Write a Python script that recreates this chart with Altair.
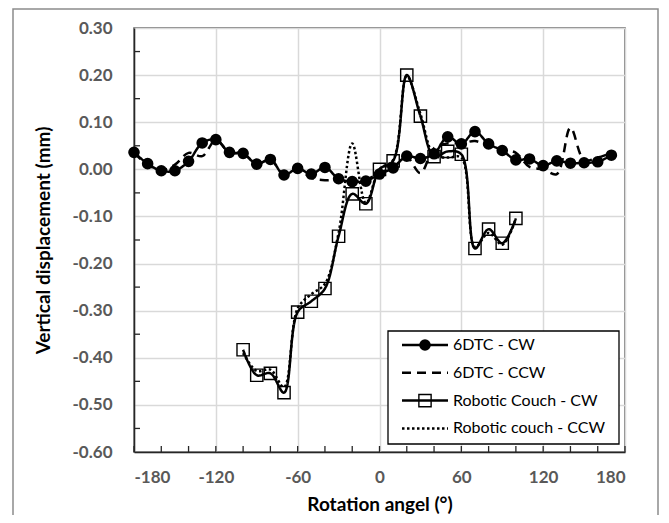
import altair as alt
import pandas as pd

# ---------------- data ----------------
angles_6dtc = [-180, -170, -160, -150, -140, -130, -120, -110, -100, -90, -80, -70,
               -60, -50, -40, -30, -20, -10, 0, 10, 20, 30, 40, 50,
               60, 70, 80, 90, 100, 110, 120, 130, 140, 150, 160, 170]
dtc_cw = [0.036, 0.012, -0.003, -0.003, 0.017, 0.056, 0.063, 0.036, 0.034, 0.011, 0.021, -0.012,
          0.002, -0.010, 0.004, -0.020, -0.026, -0.025, -0.010, 0.003, 0.028, 0.023, 0.033, 0.069,
          0.054, 0.080, 0.054, 0.040, 0.020, 0.022, 0.008, 0.018, 0.013, 0.014, 0.016, 0.030]
dtc_ccw = [0.035, 0.010, -0.002, 0.010, 0.035, 0.028, 0.062, 0.036, 0.033, 0.012, 0.020, -0.010,
           0.000, -0.018, -0.023, -0.022, -0.025, -0.022, -0.008, 0.005, 0.025, -0.008, 0.045, 0.055,
           0.055, 0.060, 0.050, 0.042, 0.035, 0.005, 0.000, -0.010, 0.088, 0.020, 0.025, 0.035]

angles_couch = [-100, -90, -80, -70, -60, -50, -40, -30, -20, -10, 0,
                10, 20, 30, 40, 50, 60, 70, 80, 90, 100]
couch_cw = [-0.383, -0.437, -0.433, -0.474, -0.303, -0.280, -0.253, -0.142, -0.052, -0.073, 0.000,
            0.018, 0.200, 0.113, 0.027, 0.038, 0.032, -0.168, -0.127, -0.157, -0.104]
couch_ccw = [-0.390, -0.428, -0.425, -0.462, -0.295, -0.265, -0.243, -0.135, 0.055, -0.072, 0.000,
             0.020, 0.198, 0.118, 0.030, 0.025, 0.025, -0.165, -0.135, -0.160, -0.105]

series_names = ["6DTC - CW", "6DTC - CCW", "Robotic Couch - CW", "Robotic couch - CCW"]
x_ticks = [-180, -120, -60, 0, 60, 120, 180]
x_minor = [-180, -160, -140, -120, -100, -80, -60, -40, -20, 0, 20, 40, 60, 80, 100, 120, 140, 160, 180]
y_ticks = [0.3, 0.2, 0.1, 0.0, -0.1, -0.2, -0.3, -0.4, -0.5, -0.6]
y_minor = [0.25, 0.15, 0.05, -0.05, -0.15, -0.25, -0.35, -0.45, -0.55]

x_title = "Rotation angel (°)"
y_title = "Vertical displacement (mm)"

# ---------------- styles / layout ----------------
FONT = "Lato"
W, H = 491, 424
PAD_B = 63
dashes = [[1, 0], [9, 6], [1, 0], [2.5, 2.5]]
MINUS = "\u2212"

rows = []
for name, angs, vals in [(series_names[0], angles_6dtc, dtc_cw),
                         (series_names[1], angles_6dtc, dtc_ccw),
                         (series_names[2], angles_couch, couch_cw),
                         (series_names[3], angles_couch, couch_ccw)]:
    for a, v in zip(angs, vals):
        rows.append({"series": name, "angle": a, "value": v})
df = pd.DataFrame(rows)

xscale = alt.Scale(domain=[-180, 180], nice=False, zero=False)
yscale = alt.Scale(domain=[-0.6, 0.3], nice=False, zero=False)
dash_scale = alt.Scale(domain=series_names, range=dashes)

x_axis = alt.Axis(values=x_ticks, title=x_title, grid=True, gridColor="#d9d9d9", gridWidth=1.5,
                  domain=True, domainColor="#262626", domainWidth=1.5, ticks=False,
                  labelFont=FONT, labelFontSize=17, labelFontWeight="bold", labelColor="#595959",
                  labelPadding=17,
                  labelExpr=f"replace(format(datum.value, 'd'), '{MINUS}', '-')",
                  titleFont=FONT, titleFontSize=19, titleFontWeight="bold", titleColor="black",
                  titleX=W / 2, titleY=52, titleBaseline="middle", titleAlign="center")
y_axis = alt.Axis(values=y_ticks, title=y_title, grid=True, gridColor="#d9d9d9", gridWidth=1.5,
                  domain=True, domainColor="#262626", domainWidth=1.5, ticks=False,
                  labelFont=FONT, labelFontSize=17, labelFontWeight="bold", labelColor="#595959",
                  labelPadding=22,
                  labelExpr=f"replace(format(datum.value, '.2f'), '{MINUS}', '-')",
                  titleFont=FONT, titleFontSize=19, titleFontWeight="bold", titleColor="black",
                  titleAngle=270, titleX=-91, titleY=H / 2, titleBaseline="middle", titleAlign="center")


def X(field):
    return alt.X(field, scale=xscale, axis=x_axis, title=x_title)


def Y(field):
    return alt.Y(field, scale=yscale, axis=y_axis, title=y_title)


lines = alt.Chart(df).mark_line(interpolate="catmull-rom", strokeWidth=2.5, color="black").encode(
    x=X("angle:Q"),
    y=Y("value:Q"),
    detail="series:N",
    strokeDash=alt.StrokeDash("series:N", scale=dash_scale, legend=None),
)

circles = alt.Chart(df).transform_filter(
    alt.datum.series == series_names[0]
).mark_point(shape="circle", filled=True, color="black", size=135, opacity=1).encode(
    x=X("angle:Q"),
    y=Y("value:Q"),
)

squares = alt.Chart(df).transform_filter(
    alt.datum.series == series_names[2]
).mark_point(shape="square", filled=False, color="black", size=150, strokeWidth=1.4, opacity=1).encode(
    x=X("angle:Q"),
    y=Y("value:Q"),
)

xminor = alt.Chart(pd.DataFrame({"t": x_minor})).mark_rule(color="#262626", strokeWidth=1.3).encode(
    x=X("t:Q"),
    y=alt.value(H), y2=alt.value(H - 6),
)
yminor = alt.Chart(pd.DataFrame({"t": y_minor})).mark_rule(color="#262626", strokeWidth=1.3).encode(
    y=Y("t:Q"),
    x=alt.value(0), x2=alt.value(6),
)

one = pd.DataFrame({"k": [0]})
frame = alt.Chart(one).mark_rect(fillOpacity=0, stroke="#8c8c8c", strokeWidth=1.5).encode(
    x=alt.value(-121), x2=alt.value(524), y=alt.value(-19), y2=alt.value(H + PAD_B + 20)
)

# legend (drawn)
LX0, LX1, LY0, LY1 = 254, 485, 303, 416
LS0, LS1, LMX, LTX = 268, 314, 291, 319
LROW0, LDY = 317, 27.8
legend_layers = [alt.Chart(one).mark_rect(fill="white", stroke="black", strokeWidth=1.3).encode(
    x=alt.value(LX0), x2=alt.value(LX1), y=alt.value(LY0), y2=alt.value(LY1))]
marker_kind = ["circle", None, "square", None]
for i, name in enumerate(series_names):
    yy = LROW0 + i * LDY
    legend_layers.append(alt.Chart(one).mark_rule(color="black", strokeWidth=2.5, strokeDash=dashes[i]).encode(
        x=alt.value(LS0), x2=alt.value(LS1), y=alt.value(yy)))
    if marker_kind[i] == "circle":
        legend_layers.append(alt.Chart(one).mark_point(shape="circle", filled=True, color="black", size=135, opacity=1).encode(
            x=alt.value(LMX), y=alt.value(yy)))
    elif marker_kind[i] == "square":
        legend_layers.append(alt.Chart(one).mark_point(shape="square", filled=False, color="black", size=150,
                                                       strokeWidth=1.4, opacity=1).encode(
            x=alt.value(LMX), y=alt.value(yy)))
    legend_layers.append(alt.Chart(one).mark_text(align="left", baseline="middle", font=FONT, fontSize=16,
                                                  color="black").encode(
        x=alt.value(LTX), y=alt.value(yy), text=alt.value(name)))

chart = alt.layer(frame, lines, circles, squares, xminor, yminor, *legend_layers).properties(
    width=W, height=H,
    autosize=alt.AutoSizeParams(type="none"),
    padding={"left": 126, "top": 20, "right": 34, "bottom": PAD_B},
).configure_view(stroke="#595959", strokeWidth=1.5)

chart.save("out.html", embed_options={"renderer": "svg", "actions": False})
